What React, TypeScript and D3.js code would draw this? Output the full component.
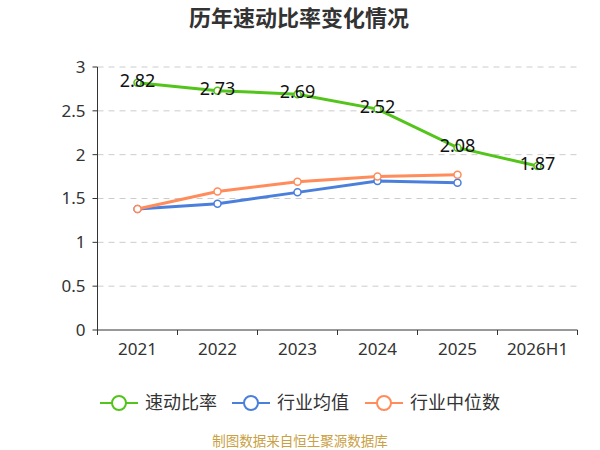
import { useMemo } from 'react';
import * as d3 from 'd3';

const years = ['2021', '2022', '2023', '2024', '2025', '2026H1'];
const quickRatio = [2.82, 2.73, 2.69, 2.52, 2.08, 1.87];
const industryAvg = [1.38, 1.44, 1.57, 1.7, 1.68];
const industryMedian = [1.38, 1.58, 1.69, 1.75, 1.77];
const yTicks = [0, 0.5, 1, 1.5, 2, 2.5, 3];

const seriesInfo = [
  { name: '速动比率', values: quickRatio, color: '#52c41a' },
  { name: '行业均值', values: industryAvg, color: '#4a7fdc' },
  { name: '行业中位数', values: industryMedian, color: '#ff8c5a' },
];

const font = '"Noto Sans", "Noto Sans CJK SC", sans-serif';

export default function App() {
  const width = 600;
  const height = 450;
  const left = 97.5;
  const right = 577.5;
  const top = 67;
  const bottom = 330;

  const x = useMemo(
    () => d3.scaleBand<string>().domain(years).range([left, right]),
    [],
  );
  const y = useMemo(() => d3.scaleLinear().domain([0, 3]).range([bottom, top]), []);

  const cx = (i: number) => (x(years[i]) ?? 0) + x.bandwidth() / 2;

  const line = d3
    .line<number>()
    .x((_, i) => cx(i))
    .y((d) => y(d));

  const legendX = [100, 232, 365];

  return (
    <svg width={width} height={height} style={{ position: 'absolute', left: 0, top: 0 }}>
      <rect width={width} height={height} fill="#fff" />
      <text
        x={299}
        y={26}
        textAnchor="middle"
        fontFamily={font}
        fontSize={22}
        fontWeight="bold"
        fill="#333"
      >
        历年速动比率变化情况
      </text>

      {yTicks.map((t) => (
        <g key={t}>
          {t > 0 && (
            <line
              x1={left}
              x2={right}
              y1={y(t)}
              y2={y(t)}
              stroke="#ccc"
              strokeDasharray="6,5"
            />
          )}
          <line x1={left - 5} x2={left} y1={y(t)} y2={y(t)} stroke="#333" />
          <text
            x={left - 12}
            y={y(t)}
            dy="0.35em"
            textAnchor="end"
            fontFamily={font}
            fontSize={17}
            fill="#333"
          >
            {t}
          </text>
        </g>
      ))}
      <line x1={left} x2={left} y1={top} y2={bottom} stroke="#333" />
      <line x1={left} x2={right} y1={bottom} y2={bottom} stroke="#333" />
      {[...years.map((d) => x(d) ?? 0), right].map((v, i) => (
        <line key={i} x1={v} x2={v} y1={bottom} y2={bottom + 5} stroke="#333" />
      ))}
      {years.map((d, i) => (
        <text
          key={d}
          x={cx(i)}
          y={355}
          textAnchor="middle"
          fontFamily={font}
          fontSize={17}
          fill="#333"
        >
          {d}
        </text>
      ))}

      {seriesInfo.map((s) => (
        <g key={s.name}>
          <path d={line(s.values) ?? ''} fill="none" stroke={s.color} strokeWidth={3} />
          {s.values.map((v, i) => (
            <circle
              key={i}
              cx={cx(i)}
              cy={y(v)}
              r={3.5}
              fill="#fff"
              stroke={s.color}
              strokeWidth={1.5}
            />
          ))}
        </g>
      ))}
      {quickRatio.map((v, i) => (
        <text
          key={i}
          x={cx(i)}
          y={y(v) - 2}
          dy="0.35em"
          textAnchor="middle"
          fontFamily={font}
          fontSize={18}
          fill="#111"
        >
          {v.toFixed(2)}
        </text>
      ))}

      {seriesInfo.map((s, i) => (
        <g key={s.name} transform={`translate(${legendX[i]},403)`}>
          <line x1={0} x2={38} y1={0} y2={0} stroke={s.color} strokeWidth={2} />
          <circle cx={19} cy={0} r={7} fill="#fff" stroke={s.color} strokeWidth={2} />
          <text
            x={45}
            y={0}
            dy="0.35em"
            fontFamily={font}
            fontSize={18}
            fill="#333"
          >
            {s.name}
          </text>
        </g>
      ))}

      <text
        x={300}
        y={446}
        textAnchor="middle"
        fontFamily={font}
        fontSize={13.5}
        fill="#c9a043"
      >
        制图数据来自恒生聚源数据库
      </text>
    </svg>
  );
}
